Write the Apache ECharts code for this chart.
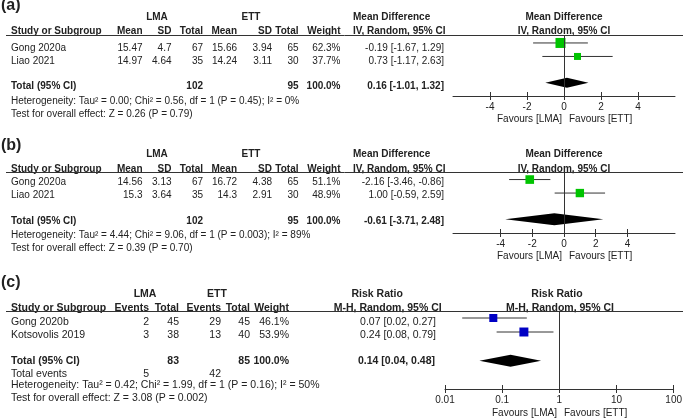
<!DOCTYPE html>
<html><head><meta charset="utf-8">
<script src="https://cdn.jsdelivr.net/npm/echarts@6/dist/echarts.min.js"></script>
<style>html,body{margin:0;padding:0;background:#fff}#c{width:685px;height:420px}</style>
</head><body><div id="c"></div>
<script>
// ---------- Panel (a) ----------
const aStudies = ['Gong 2020a', 'Liao 2021'];
const aLmaMean = [15.47, 14.97];
const aLmaSD = [4.7, 4.64];
const aLmaN = [67, 35];
const aEttMean = [15.66, 14.24];
const aEttSD = [3.94, 3.11];
const aEttN = [65, 30];
const aWeight = [62.3, 37.7];
const aEst = [-0.19, 0.73];
const aLo = [-1.67, -1.17];
const aHi = [1.29, 2.63];
const aTotalN = [102, 95];
const aPooled = [0.16, -1.01, 1.32];
const aHet = 'Heterogeneity: Tau² = 0.00; Chi² = 0.56, df = 1 (P = 0.45); I² = 0%';
const aTest = 'Test for overall effect: Z = 0.26 (P = 0.79)';
const aTicks = [-4, -2, 0, 2, 4];

// ---------- Panel (b) ----------
const bStudies = ['Gong 2020a', 'Liao 2021'];
const bLmaMean = [14.56, 15.3];
const bLmaSD = [3.13, 3.64];
const bLmaN = [67, 35];
const bEttMean = [16.72, 14.3];
const bEttSD = [4.38, 2.91];
const bEttN = [65, 30];
const bWeight = [51.1, 48.9];
const bEst = [-2.16, 1.00];
const bLo = [-3.46, -0.59];
const bHi = [-0.86, 2.59];
const bTotalN = [102, 95];
const bPooled = [-0.61, -3.71, 2.48];
const bHet = 'Heterogeneity: Tau² = 4.44; Chi² = 9.06, df = 1 (P = 0.003); I² = 89%';
const bTest = 'Test for overall effect: Z = 0.39 (P = 0.70)';
const bTicks = [-4, -2, 0, 2, 4];

// ---------- Panel (c) ----------
const cStudies = ['Gong 2020b', 'Kotsovolis 2019'];
const cLmaEvents = [2, 3];
const cLmaN = [45, 38];
const cEttEvents = [29, 13];
const cEttN = [45, 40];
const cWeight = [46.1, 53.9];
const cEst = [0.07, 0.24];
const cLo = [0.02, 0.08];
const cHi = [0.27, 0.79];
const cTotalN = [83, 85];
const cTotalEvents = [5, 42];
const cPooled = [0.14, 0.04, 0.48];
const cHet = 'Heterogeneity: Tau² = 0.42; Chi² = 1.99, df = 1 (P = 0.16); I² = 50%';
const cTest = 'Test for overall effect: Z = 3.08 (P = 0.002)';
const cTicks = [0.01, 0.1, 1, 10, 100];

// ---------- helpers ----------
const FONT = '"Liberation Sans", Arial, Helvetica, sans-serif';
const COL = '#222';
const LINE = '#333';
const g = [];
let FS = 10;
function T(x, y, s, align, bold, size) {
  g.push({type: 'text', x: x, y: y, silent: true, z: 10,
    style: {text: String(s), fill: COL, font: (bold ? 'bold ' : '') + (size || FS) + 'px ' + FONT,
      textAlign: align || 'left', textVerticalAlign: 'middle', align: align || 'left', verticalAlign: 'middle'}});
}
function HL(y) {
  g.push({type: 'line', silent: true, z: 10, shape: {x1: 6, y1: y, x2: 683, y2: y}, style: {stroke: LINE, lineWidth: 1}});
}
const f2 = v => v.toFixed(2);
const ci = (e, l, h) => f2(e) + ' [' + f2(l) + ', ' + f2(h) + ']';

// Mean-difference panels text
const mdCols = {lm: 142.5, ls: 171.5, ln: 203, em: 237, es: 272, en: 298.5, w: 340.5, est: 444};
function mdText(L, studies, lm, ls, ln, em, es, en, w, est, lo, hi, totN, pooled, het, test, Y) {
  FS = 10;
  T(1, Y.label, L, 'left', true, 16);
  T(157, Y.group, 'LMA', 'center', true);
  T(251, Y.group, 'ETT', 'center', true);
  T(353, Y.group, 'Mean Difference', 'left', true);
  T(564, Y.group, 'Mean Difference', 'center', true);
  T(11, Y.head, 'Study or Subgroup', 'left', true);
  T(mdCols.lm, Y.head, 'Mean', 'right', true);
  T(mdCols.ls, Y.head, 'SD', 'right', true);
  T(mdCols.ln, Y.head, 'Total', 'right', true);
  T(mdCols.em, Y.head, 'Mean', 'right', true);
  T(mdCols.es, Y.head, 'SD', 'right', true);
  T(mdCols.en, Y.head, 'Total', 'right', true);
  T(mdCols.w, Y.head, 'Weight', 'right', true);
  T(353, Y.head, 'IV, Random, 95% CI', 'left', true);
  T(564, Y.head, 'IV, Random, 95% CI', 'center', true);
  HL(Y.line);
  studies.forEach((s, i) => {
    const y = Y.rows[i];
    T(11, y, s);
    T(mdCols.lm, y, lm[i], 'right');
    T(mdCols.ls, y, ls[i], 'right');
    T(mdCols.ln, y, ln[i], 'right');
    T(mdCols.em, y, em[i], 'right');
    T(mdCols.es, y, es[i], 'right');
    T(mdCols.en, y, en[i], 'right');
    T(mdCols.w, y, w[i].toFixed(1) + '%', 'right');
    T(mdCols.est, y, ci(est[i], lo[i], hi[i]), 'right');
  });
  T(11, Y.total, 'Total (95% CI)', 'left', true);
  T(mdCols.ln, Y.total, totN[0], 'right', true);
  T(mdCols.en, Y.total, totN[1], 'right', true);
  T(mdCols.w, Y.total, '100.0%', 'right', true);
  T(mdCols.est, Y.total, ci(pooled[0], pooled[1], pooled[2]), 'right', true);
  T(11, Y.het, het);
  T(11, Y.test, test);
  T(Y.zero - 2, Y.fav, 'Favours [LMA]', 'right');
  T(Y.zero + 5, Y.fav, 'Favours [ETT]', 'left');
}
mdText('(a)', aStudies, aLmaMean, aLmaSD, aLmaN, aEttMean, aEttSD, aEttN, aWeight, aEst, aLo, aHi, aTotalN, aPooled, aHet, aTest,
  {label: 6, group: 17.5, head: 31, line: 35.5, rows: [48, 61], total: 86, het: 101, test: 114.5, fav: 119.5, zero: 564});
mdText('(b)', bStudies, bLmaMean, bLmaSD, bLmaN, bEttMean, bEttSD, bEttN, bWeight, bEst, bLo, bHi, bTotalN, bPooled, bHet, bTest,
  {label: 146, group: 154.5, head: 169, line: 172.5, rows: [182.5, 195.5], total: 221.5, het: 235, test: 248.5, fav: 256.5, zero: 564});

// Risk ratio panel text
(function () {
  const C = {le: 149, ln: 179, ee: 221, en: 250, w: 289, est: 436};
  const Y = {label: 283, group: 294.5, head: 308.5, line: 311.5, rows: [322, 335.5], total: 361, ev: 374, het: 385.5, test: 398.5, fav: 413.5, zero: 559};
  FS = 10;
  T(1, Y.label, '(c)', 'left', true, 16);
  T(Y.zero - 2, Y.fav, 'Favours [LMA]', 'right');
  T(Y.zero + 5, Y.fav, 'Favours [ETT]', 'left');
  FS = 10.5;
  T(145, Y.group, 'LMA', 'center', true);
  T(217, Y.group, 'ETT', 'center', true);
  T(351.5, Y.group, 'Risk Ratio', 'left', true);
  T(557, Y.group, 'Risk Ratio', 'center', true);
  T(11, Y.head, 'Study or Subgroup', 'left', true);
  T(C.le, Y.head, 'Events', 'right', true);
  T(C.ln, Y.head, 'Total', 'right', true);
  T(C.ee, Y.head, 'Events', 'right', true);
  T(C.en, Y.head, 'Total', 'right', true);
  T(C.w, Y.head, 'Weight', 'right', true);
  T(441.7, Y.head, 'M-H, Random, 95% CI', 'right', true);
  T(560, Y.head, 'M-H, Random, 95% CI', 'center', true);
  HL(Y.line);
  cStudies.forEach((s, i) => {
    const y = Y.rows[i];
    T(11, y, s);
    T(C.le, y, cLmaEvents[i], 'right');
    T(C.ln, y, cLmaN[i], 'right');
    T(C.ee, y, cEttEvents[i], 'right');
    T(C.en, y, cEttN[i], 'right');
    T(C.w, y, cWeight[i].toFixed(1) + '%', 'right');
    T(C.est, y, ci(cEst[i], cLo[i], cHi[i]), 'right');
  });
  T(11, Y.total, 'Total (95% CI)', 'left', true);
  T(C.ln, Y.total, cTotalN[0], 'right', true);
  T(C.en, Y.total, cTotalN[1], 'right', true);
  T(C.w, Y.total, '100.0%', 'right', true);
  T(C.est - 1, Y.total, ci(cPooled[0], cPooled[1], cPooled[2]), 'right', true);
  T(11, Y.ev, 'Total events');
  T(C.le, Y.ev, cTotalEvents[0], 'right');
  T(C.ee, Y.ev, cTotalEvents[1], 'right');
  T(11, Y.het, cHet);
  T(11, Y.test, cTest);
  FS = 10;
})();

// ---------- axes ----------
const labelFmt = v => String(Number(Number(v).toPrecision(3)));
function xMain(i, type, min, max, ticks) {
  const ax = {gridIndex: i, type: type, min: min, max: max, position: 'bottom',
    axisLine: {show: true, onZero: false, lineStyle: {color: LINE, width: 1}},
    axisTick: {show: true, inside: false, length: 4, customValues: ticks, lineStyle: {color: LINE, width: 1}},
    axisLabel: {show: true, customValues: ticks, margin: 6, fontSize: 10, color: COL, fontFamily: FONT, formatter: labelFmt, showMinLabel: true, showMaxLabel: true},
    splitLine: {show: false}};
  if (type === 'log') ax.logBase = 10;
  return ax;
}
function xInner(i, type, min, max, ticks) {
  const ax = {gridIndex: i, type: type, min: min, max: max, position: 'bottom',
    axisLine: {show: false, onZero: false},
    axisTick: {show: true, inside: true, length: 4, customValues: ticks, lineStyle: {color: LINE, width: 1}},
    axisLabel: {show: false}, splitLine: {show: false}};
  if (type === 'log') ax.logBase = 10;
  return ax;
}

// rows: studies at 1, 2; pooled row per panel
const studyRows = [1, 2];
const totalRowAB = 3.95;
const totalRowC = 4.05;

function squareSize(w) { return 2.4 + 0.122 * w; }
function studyRender(color) {
  return function (params, api) {
    const e = api.value(0), l = api.value(1), h = api.value(2), r = api.value(3), w = api.value(4);
    const pL = api.coord([l, r]), pR = api.coord([h, r]), pC = api.coord([e, r]);
    const s = squareSize(w);
    return {type: 'group', children: [
      {type: 'line', shape: {x1: pL[0], y1: pC[1], x2: pR[0], y2: pC[1]}, style: {stroke: LINE, lineWidth: 1}},
      {type: 'rect', shape: {x: pC[0] - s / 2, y: pC[1] - s / 2, width: s, height: s}, style: {fill: color}}
    ]};
  };
}
function diamondRender(half) {
  return function (params, api) {
    const e = api.value(0), l = api.value(1), h = api.value(2), r = api.value(3);
    const pL = api.coord([l, r]), pR = api.coord([h, r]), pC = api.coord([e, r]);
    return {type: 'polygon', shape: {points: [[pL[0], pC[1]], [pC[0], pC[1] - half], [pR[0], pC[1]], [pC[0], pC[1] + half]]},
      style: {fill: '#000'}};
  };
}
function studyData(est, lo, hi, w) { return est.map((e, i) => [e, lo[i], hi[i], studyRows[i], w[i]]); }

function panelSeries(i, zero, est, lo, hi, w, pooled, totalRow, color, half) {
  return [
    {type: 'line', xAxisIndex: i, yAxisIndex: i, data: [], silent: true, z: 1,
      markLine: {silent: true, symbol: 'none', animation: false, label: {show: false},
        lineStyle: {color: LINE, width: 1, type: 'solid'}, emphasis: {disabled: true}, data: [{xAxis: zero}]}},
    {type: 'custom', xAxisIndex: i, yAxisIndex: i, z: 3, silent: true, renderItem: studyRender(color),
      encode: {x: [0, 1, 2], y: 3}, data: studyData(est, lo, hi, w)},
    {type: 'custom', xAxisIndex: i, yAxisIndex: i, z: 3, silent: true, renderItem: diamondRender(half),
      encode: {x: [0, 1, 2], y: 3}, data: [[pooled[0], pooled[1], pooled[2], totalRow]]}
  ];
}

const GREEN = '#00c400';
const BLUE = '#0000c4';
const option = {
  animation: false,
  backgroundColor: '#fff',
  grid: [
    {left: 453, top: 35, width: 222, height: 61},
    {left: 453, top: 172, width: 222, height: 61},
    {left: 445, top: 311, width: 229, height: 78}
  ],
  xAxis: [
    xMain(0, 'value', -6, 6, aTicks), xMain(1, 'value', -7, 7, bTicks), xMain(2, 'log', 0.01, 100, cTicks),
    xInner(0, 'value', -6, 6, aTicks), xInner(1, 'value', -7, 7, bTicks), xInner(2, 'log', 0.01, 100, cTicks)
  ],
  yAxis: [
    {gridIndex: 0, type: 'value', inverse: true, min: 0.41, max: 4.93, show: false},
    {gridIndex: 1, type: 'value', inverse: true, min: 0.44, max: 4.96, show: false},
    {gridIndex: 2, type: 'value', inverse: true, min: 0.5, max: 6.07, show: false}
  ],
  series: [].concat(
    panelSeries(0, 0, aEst, aLo, aHi, aWeight, aPooled, totalRowAB, GREEN, 5),
    panelSeries(1, 0, bEst, bLo, bHi, bWeight, bPooled, totalRowAB, GREEN, 6),
    panelSeries(2, 1, cEst, cLo, cHi, cWeight, cPooled, totalRowC, BLUE, 6)
  ),
  graphic: {elements: g}
};
const chart = echarts.init(document.getElementById('c'), null, {renderer: 'canvas'});
chart.setOption(option);
</script>
</body></html>
